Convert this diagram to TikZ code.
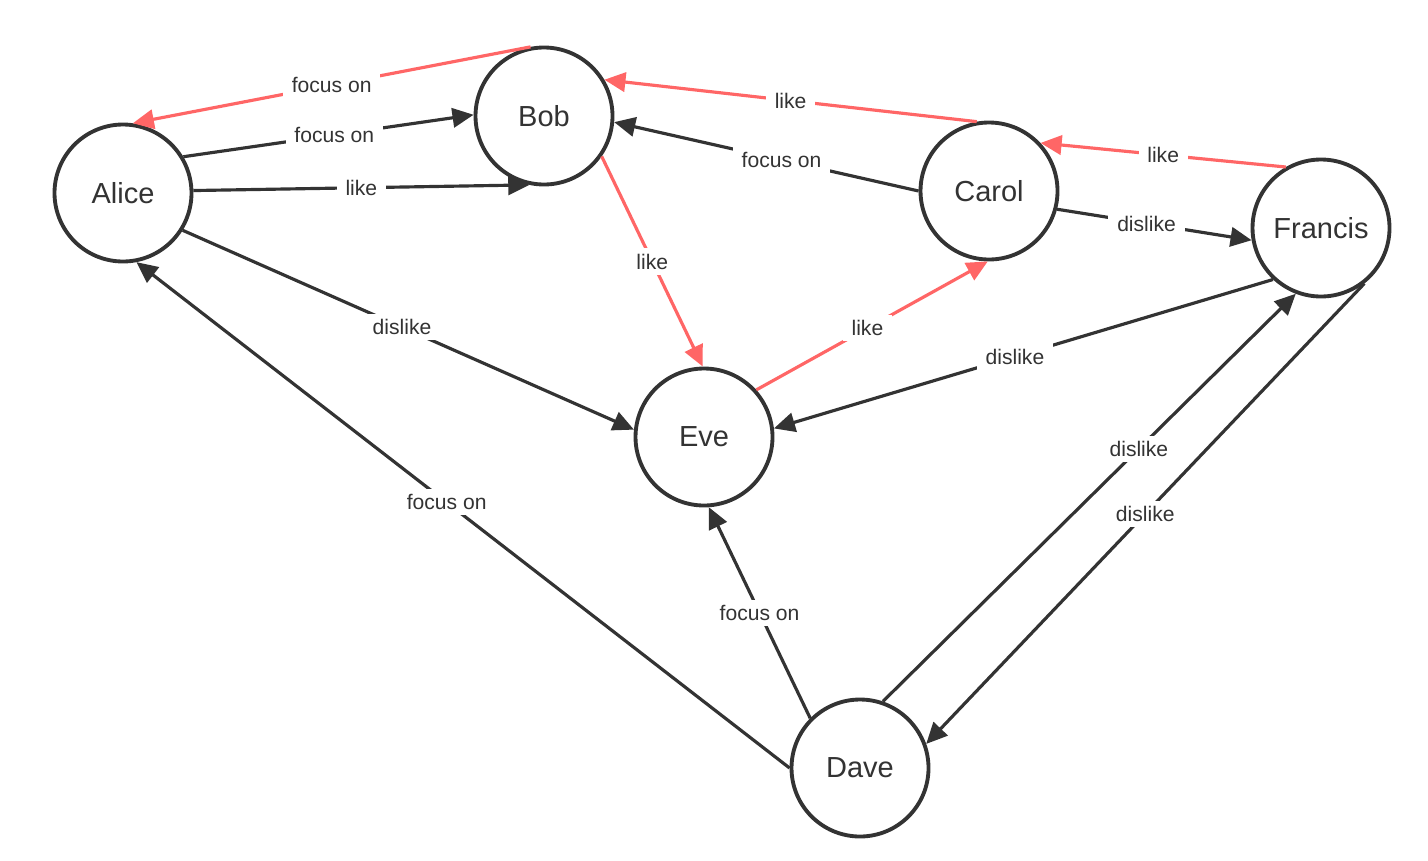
\documentclass[tikz,border=0pt]{standalone}
\usepackage{fontspec}
\setmainfont{Liberation Sans}
\usetikzlibrary{arrows.meta}
\definecolor{ink}{HTML}{333333}
\definecolor{redline}{HTML}{FF6666}
\tikzset{
  person/.style={circle, draw=ink, line width=2.2pt, fill=white, minimum size=2.74cm, inner sep=0pt, text=ink, font=\fontsize{16.5}{19}\selectfont},
  rel/.style={draw=ink, line width=1.8pt, -{Triangle[length=12pt, width=11pt]}},
  relred/.style={rel, draw=redline, -{Triangle[length=12pt, width=11pt, fill=redline]}},
  lbl/.style={fill=white, text=ink, inner xsep=5pt, inner ysep=3pt, font=\fontsize{12}{14}\selectfont}
}
\begin{document}
\begin{tikzpicture}
          \useasboundingbox (0,0) rectangle (28.56,-17.2);
          \node[person] (nAlice) at (2.46,-3.86) {Alice};
          \node[person] (nBob) at (10.88,-2.32) {Bob};
          \node[person] (nCarol) at (19.78,-3.82) {Carol};
          \node[person] (nFrancis) at (26.42,-4.56) {Francis};
          \node[person] (nEve) at (14.08,-8.74) {Eve};
          \node[person] (nDave) at (17.2,-15.36) {Dave};

          \draw[relred] (nBob.101) -- node[lbl] {focus on} (nAlice.82);
          \draw[rel] (nAlice.31) -- node[lbl, pos=0.52] {focus on} (nBob.179);
          \draw[rel] (nAlice.2) -- node[lbl] {like} (nBob.258);
          \draw[rel] (nAlice.-32) -- node[lbl, pos=0.486] {dislike} (nEve.174);

          \draw[relred] (nBob.-35) -- node[lbl] {like} (nEve.91);

          \draw[relred] (nCarol.100) -- node[lbl] {like} (nBob.31);
          \draw[rel] (nCarol.180) -- node[lbl, pos=0.45] {focus on} (nBob.-5);
          \draw[rel] (nCarol.-15) -- node[lbl, pos=0.46] {dislike} (nFrancis.190);

          \draw[relred] (nFrancis.120) -- node[lbl] {like} (nCarol.43);
          \draw[rel] (nFrancis.227) -- node[lbl, pos=0.517] {dislike} (nEve.7);
          \draw[rel] (nFrancis.-52) -- node[lbl, pos=0.5] {dislike} (nDave.20);

          \draw[relred] (nEve.42) -- node[lbl, pos=0.48] {like} (nCarol.269);

          \draw[rel] (nDave.180) -- node[lbl, pos=0.525] {focus on} (nAlice.281);
          \draw[rel] (nDave.71) -- node[lbl, pos=0.62] {dislike} (nFrancis.249);
          \draw[rel] (nDave.135) -- node[lbl] {focus on} (nEve.274);
        \end{tikzpicture}
\end{document}
